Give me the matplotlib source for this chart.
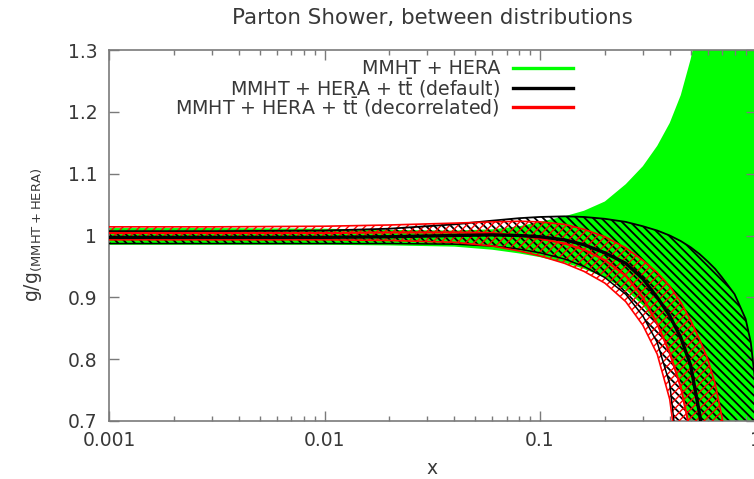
import matplotlib
matplotlib.use("Agg")
import matplotlib.pyplot as plt
from matplotlib.lines import Line2D
from matplotlib.ticker import NullLocator

plt.rcParams['font.family'] = ['DejaVu Sans']
plt.rcParams['mathtext.fontset'] = 'dejavusans'

# ---- data: gluon ratio g / g(MMHT+HERA) versus x ----
x = [0.001, 0.003, 0.01, 0.02, 0.04, 0.06, 0.08, 0.1, 0.13, 0.16, 0.2, 0.25,
     0.3, 0.35, 0.4, 0.45, 0.5, 0.55, 0.6, 0.65, 0.7, 0.8, 0.9, 0.95, 1.0]

# MMHT + HERA band
hera_up = [1.012, 1.012, 1.011, 1.009, 1.008, 1.010, 1.015, 1.022, 1.031, 1.040, 1.055, 1.083,
           1.112, 1.145, 1.182, 1.227, 1.285, 1.350, 1.420, 1.490, 1.560, 1.700, 1.850, 1.920, 2.000]
hera_lo = [0.985, 0.985, 0.985, 0.984, 0.982, 0.977, 0.971, 0.965, 0.956, 0.946, 0.932, 0.912,
           0.887, 0.855, 0.812, 0.760, 0.688, 0.600, 0.520, 0.440, 0.360, 0.220, 0.100, 0.050, 0.000]

# MMHT + HERA + ttbar (default)
dflt_up = [1.007, 1.007, 1.008, 1.011, 1.018, 1.024, 1.028, 1.030, 1.031, 1.030, 1.027, 1.022,
           1.015, 1.008, 1.000, 0.991, 0.981, 0.970, 0.958, 0.946, 0.932, 0.905, 0.865, 0.828, 0.760]
dflt_c = [0.997, 0.997, 0.997, 0.998, 1.000, 1.001, 1.000, 0.998, 0.993, 0.985, 0.972, 0.955,
          0.930, 0.900, 0.870, 0.835, 0.790, 0.712, 0.620, 0.520, 0.420, 0.250, 0.100, 0.050, 0.000]
dflt_lo = [0.987, 0.987, 0.987, 0.987, 0.986, 0.983, 0.978, 0.972, 0.962, 0.950, 0.932, 0.905,
           0.870, 0.827, 0.760, 0.600, 0.480, 0.380, 0.300, 0.220, 0.150, 0.050, 0.000, 0.000, 0.000]

# MMHT + HERA + ttbar (decorrelated)
dec_up = [1.014, 1.014, 1.015, 1.017, 1.020, 1.022, 1.023, 1.022, 1.018, 1.010, 0.998, 0.980,
          0.960, 0.940, 0.918, 0.892, 0.863, 0.832, 0.800, 0.760, 0.705, 0.550, 0.400, 0.300, 0.200]
dec_c = [1.004, 1.004, 1.004, 1.005, 1.005, 1.004, 1.000, 0.995, 0.987, 0.977, 0.960, 0.935,
         0.900, 0.857, 0.810, 0.755, 0.680, 0.580, 0.480, 0.380, 0.300, 0.150, 0.050, 0.000, 0.000]
dec_lo = [0.993, 0.993, 0.993, 0.992, 0.989, 0.983, 0.975, 0.967, 0.955, 0.942, 0.923, 0.893,
          0.855, 0.808, 0.735, 0.600, 0.480, 0.370, 0.280, 0.200, 0.120, 0.030, 0.000, 0.000, 0.000]

series_labels = ['MMHT + HERA',
                 r'MMHT + HERA + t$\bar{\rm t}$ (default)',
                 r'MMHT + HERA + t$\bar{\rm t}$ (decorrelated)']
series_colors = ['#00ff00', '#000000', '#ff0000']

x_ticks = [0.001, 0.01, 0.1, 1]
x_tick_labels = ['0.001', '0.01', '0.1', '1']
y_ticks = [0.7, 0.8, 0.9, 1.0, 1.1, 1.2, 1.3]
y_tick_labels = ['0.7', '0.8', '0.9', '1', '1.1', '1.2', '1.3']

TXT = '#383838'
AX = '#7a7a7a'
FS = 13.5

HATCH_DEFAULT = chr(92) * 4   # dense back-slash hatch
HATCH_DECORR = '/' * 4        # dense forward-slash hatch

W, H = 754, 479
fig = plt.figure(figsize=(W / 100, H / 100), dpi=100)
ax = fig.add_axes([109 / W, 1 - 421 / H, (755.5 - 109) / W, (421 - 50) / H])

# bands
ax.fill_between(x, hera_lo, hera_up, facecolor=series_colors[0], edgecolor='none',
                linewidth=0, zorder=1)
plt.rcParams['hatch.linewidth'] = 1.3
ax.fill_between(x, dflt_lo, dflt_up, facecolor='none', edgecolor='black',
                hatch=HATCH_DEFAULT, linewidth=0, zorder=2)
plt.rcParams['hatch.linewidth'] = 1.0
ax.fill_between(x, dec_lo, dec_up, facecolor='none', edgecolor='#ff0000',
                hatch=HATCH_DECORR, linewidth=0, zorder=3)

# band edges and central curves
ax.plot(x, dflt_lo, color='black', lw=1.1, zorder=4)
ax.plot(x, dflt_up, color='black', lw=1.3, zorder=4)
ax.plot(x, dec_lo, color='#ff0000', lw=1.2, zorder=5)
ax.plot(x, dec_up, color='#ff0000', lw=1.2, zorder=5)
ax.plot(x, dec_c, color='#ff0000', lw=1.6, zorder=5)
ax.plot(x, dflt_c, color='black', lw=2.4, zorder=6)

ax.set_xscale('log')
ax.set_xlim(0.001, 1)
ax.set_ylim(0.7, 1.3)
ax.set_xticks(x_ticks)
ax.set_xticklabels(x_tick_labels)
ax.set_yticks(y_ticks)
ax.set_yticklabels(y_tick_labels)
ax.yaxis.set_minor_locator(NullLocator())

for s in ax.spines.values():
    s.set_color(AX)
    s.set_linewidth(1.2)
ax.tick_params(which='both', direction='in', top=True, right=True, color=AX,
               width=1.0, labelcolor=TXT, labelsize=FS)
ax.tick_params(which='major', length=7)
ax.tick_params(which='minor', length=3.5)
ax.tick_params(axis='y', pad=8.5)
ax.tick_params(axis='x', pad=7)

# titles
fig.text(432 / W, 1 - 18 / H, 'Parton Shower, between distributions', ha='center',
         va='center', fontsize=15.4, color=TXT)
fig.text(432 / W, 1 - 469 / H, 'x', ha='center', va='center', fontsize=FS, color=TXT)
fig.text(33 / W, 1 - 235 / H, r'g/g$_{\rm (MMHT+HERA)}$', ha='center', va='center',
         rotation=90, fontsize=FS, color=TXT)

# key
rows_y = [68, 88, 107]
for lab, col, ry in zip(series_labels, series_colors, rows_y):
    fig.text(500 / W, 1 - ry / H, lab, ha='right', va='center', fontsize=13.7, color=TXT)
    fig.add_artist(Line2D([513 / W, 573 / W], [1 - ry / H, 1 - ry / H], color=col,
                          lw=2.4, transform=fig.transFigure))

fig.savefig('out.png', dpi=100)
